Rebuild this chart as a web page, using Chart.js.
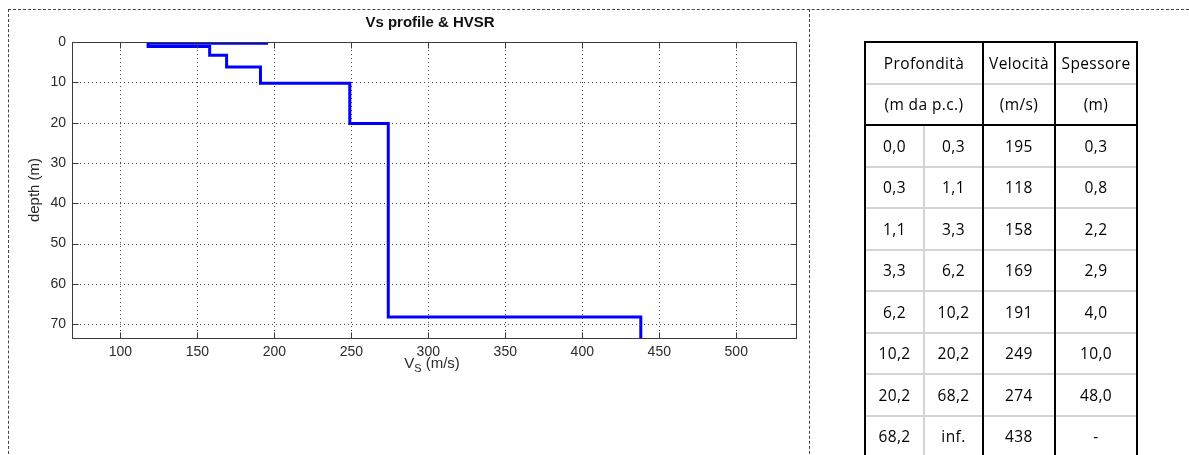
<!DOCTYPE html>
<html>
<head>
<meta charset="utf-8">
<script src="https://cdn.jsdelivr.net/npm/chart.js@4.4.1/dist/chart.umd.min.js"></script>
<style>
  html, body { margin:0; padding:0; background:#fff; }
  body { width:1189px; height:455px; overflow:hidden; position:relative; }
  #chartBox { position:absolute; left:0; top:0; width:809px; height:455px; }
  .dash { position:absolute; pointer-events:none; }
  #tbl { position:absolute; left:0; top:0; width:1189px; height:455px; pointer-events:none; }
  .cell { position:absolute; display:flex; align-items:center; justify-content:center;
          font-family:'Open Sans','Lato',sans-serif; font-size:15.5px; letter-spacing:0.4px; color:#000; }
  .ln { position:absolute; }
</style>
</head>
<body>
<div id="chartBox"><canvas id="c"></canvas></div>
<div class="dash" style="left:8px; top:9px; width:1181px; height:0; border-top:1px dashed #444;"></div>
<div class="dash" style="left:8px; top:9px; width:800px; height:470px; border-left:1px dashed #444; border-right:1px dashed #444;"></div>
<div id="tbl"></div>
<script>
// ---- data ----
const chartTitle = 'Vs profile & HVSR';
const layerTop    = [0, 0.3, 1.1, 3.3, 6.2, 10.2, 20.2, 68.2];
const layerBottom = [0.3, 1.1, 3.3, 6.2, 10.2, 20.2, 68.2, null]; // null = inf.
const velocity    = [195, 118, 158, 169, 191, 249, 274, 438];
const thickness   = [0.3, 0.8, 2.2, 2.9, 4.0, 10.0, 48.0, null];
const xTicks = [100, 150, 200, 250, 300, 350, 400, 450, 500];
const yTicks = [0, 10, 20, 30, 40, 50, 60, 70];
const xRange = [68.6, 538.8];
const yRange = [0, 73.4];
const headerRow1 = ['Profondità', 'Velocità', 'Spessore'];
const headerRow2 = ['(m da p.c.)', '(m/s)', '(m)'];

// ---- profile points (step line) ----
const profile = [];
velocity.forEach((v, i) => {
  profile.push({x: v, y: layerTop[i]});
  profile.push({x: v, y: layerBottom[i] === null ? yRange[1] : layerBottom[i]});
});

const tickFont = {family: "'Liberation Sans', Arial, sans-serif", size: 14};
const inkColor = '#2b2b2b';

const matlabAxes = {
  id: 'matlabAxes',
  beforeDatasetsDraw(chart) {
    const {ctx, chartArea: a, scales: {x, y}} = chart;
    ctx.save();
    ctx.strokeStyle = '#444';
    ctx.lineWidth = 1;
    ctx.setLineDash([1, 3]);
    xTicks.forEach(v => {
      const px = Math.round(x.getPixelForValue(v)) + 0.5;
      ctx.beginPath(); ctx.moveTo(px, a.top); ctx.lineTo(px, a.bottom); ctx.stroke();
    });
    yTicks.forEach(v => {
      if (v === yRange[0]) return;
      const py = Math.round(y.getPixelForValue(v)) + 0.5;
      ctx.beginPath(); ctx.moveTo(a.left, py); ctx.lineTo(a.right, py); ctx.stroke();
    });
    ctx.restore();
  },
  afterDatasetsDraw(chart) {
    const {ctx, chartArea: a, scales: {x, y}} = chart;
    ctx.save();
    ctx.strokeStyle = '#3a3a3a';
    ctx.lineWidth = 1;
    ctx.setLineDash([]);
    const L = Math.round(a.left) + 0.5, R = Math.round(a.right) + 0.5;
    const T = Math.round(a.top) + 0.5, B = Math.round(a.bottom) + 0.5;
    ctx.strokeRect(L, T, R - L, B - T);
    const tl = 6;
    ctx.beginPath();
    xTicks.forEach(v => {
      const px = Math.round(x.getPixelForValue(v)) + 0.5;
      ctx.moveTo(px, B); ctx.lineTo(px, B - tl);
      ctx.moveTo(px, T); ctx.lineTo(px, T + tl);
    });
    yTicks.forEach(v => {
      const py = Math.round(y.getPixelForValue(v)) + 0.5;
      ctx.moveTo(L, py); ctx.lineTo(L + tl, py);
      ctx.moveTo(R, py); ctx.lineTo(R - tl, py);
    });
    ctx.stroke();

    // title
    ctx.fillStyle = '#111';
    ctx.textAlign = 'center';
    ctx.textBaseline = 'alphabetic';
    ctx.font = "bold 15px 'Liberation Sans', Arial, sans-serif";
    ctx.fillText(chartTitle, 430, 27);

    // x axis title: V_S (m/s)
    ctx.fillStyle = inkColor;
    ctx.textAlign = 'left';
    const f1 = "15px 'Liberation Sans', Arial, sans-serif";
    const f2 = "11px 'Liberation Sans', Arial, sans-serif";
    ctx.font = f1; const wV = ctx.measureText('V').width;
    const wU = ctx.measureText(' (m/s)').width;
    ctx.font = f2; const wS = ctx.measureText('S').width;
    const total = wV + wS + wU;
    let sx = 432 - total / 2;
    const base = 368;
    ctx.font = f1; ctx.fillText('V', sx, base); sx += wV;
    ctx.font = f2; ctx.fillText('S', sx, base + 4); sx += wS;
    ctx.font = f1; ctx.fillText(' (m/s)', sx, base);

    // y axis title
    ctx.save();
    ctx.translate(35, 190);
    ctx.rotate(-Math.PI / 2);
    ctx.textAlign = 'center';
    ctx.textBaseline = 'middle';
    ctx.font = f1;
    ctx.fillText('depth (m)', 0, 0);
    ctx.restore();
    ctx.restore();
  }
};

new Chart(document.getElementById('c'), {
  type: 'scatter',
  data: {
    datasets: [{
      label: 'Vs',
      data: profile,
      showLine: true,
      borderColor: '#0000ff',
      backgroundColor: '#0000ff',
      borderWidth: 3,
      pointRadius: 0,
      pointHoverRadius: 0,
      fill: false,
      tension: 0,
      borderJoinStyle: 'miter'
    }]
  },
  options: {
    responsive: true,
    maintainAspectRatio: false,
    animation: false,
    events: [],
    layout: { padding: { left: 0, top: 42, right: 13, bottom: 0 } },
    plugins: { legend: { display: false }, tooltip: { enabled: false }, title: { display: false } },
    scales: {
      x: {
        type: 'linear', min: xRange[0], max: xRange[1],
        grid: { display: false, drawTicks: false },
        border: { display: false },
        afterBuildTicks: s => { s.ticks = xTicks.map(v => ({value: v})); },
        afterFit: s => { s.height = 455 - 338; },
        ticks: { font: tickFont, color: inkColor, padding: 6, maxRotation: 0, autoSkip: false }
      },
      y: {
        type: 'linear', reverse: true, min: yRange[0], max: yRange[1],
        grid: { display: false, drawTicks: false },
        border: { display: false },
        afterBuildTicks: s => { s.ticks = yTicks.map(v => ({value: v})); },
        afterFit: s => { s.width = 72; },
        ticks: { font: tickFont, color: inkColor, padding: 6, autoSkip: false }
      }
    }
  },
  plugins: [matlabAxes]
});

// ---- table ----
(function buildTable() {
  const host = document.getElementById('tbl');
  const colX = [865, 924, 983, 1055, 1137];
  const top = 42, rh = 41.5;
  const nRows = 2 + velocity.length;
  const fmt = v => v === null ? '' : v.toFixed(1).replace('.', ',');
  function cell(x0, x1, row, text) {
    const d = document.createElement('div');
    d.className = 'cell';
    d.style.left = x0 + 'px'; d.style.width = (x1 - x0) + 'px';
    d.style.top = (top + row * rh) + 'px'; d.style.height = rh + 'px';
    d.textContent = text;
    host.appendChild(d);
  }
  function line(x, y, w, h, color) {
    const d = document.createElement('div');
    d.className = 'ln';
    d.style.left = x + 'px'; d.style.top = y + 'px';
    d.style.width = w + 'px'; d.style.height = h + 'px';
    d.style.background = color;
    host.appendChild(d);
  }
  // headers
  cell(colX[0], colX[2], 0, headerRow1[0]);
  cell(colX[2], colX[3], 0, headerRow1[1]);
  cell(colX[3], colX[4], 0, headerRow1[2]);
  cell(colX[0], colX[2], 1, headerRow2[0]);
  cell(colX[2], colX[3], 1, headerRow2[1]);
  cell(colX[3], colX[4], 1, headerRow2[2]);
  velocity.forEach((v, i) => {
    const r = i + 2;
    cell(colX[0], colX[1], r, fmt(layerTop[i]));
    cell(colX[1], colX[2], r, layerBottom[i] === null ? 'inf.' : fmt(layerBottom[i]));
    cell(colX[2], colX[3], r, String(v));
    cell(colX[3], colX[4], r, thickness[i] === null ? '-' : fmt(thickness[i]));
  });
  const gray = '#d4d4d4', black = '#000';
  const bottom = top + nRows * rh;
  // gray lines
  for (let r = 1; r <= nRows; r++) {
    if (r === 2) continue;
    line(colX[0], top + r * rh - 1, colX[4] - colX[0], 2, gray);
  }
  line(colX[1] - 1, top + 2 * rh, 2, bottom - (top + 2 * rh), gray);
  // black lines
  line(colX[0], top + 2 * rh - 1, colX[4] - colX[0] + 1, 2, black);
  line(colX[0] - 1, top - 1, colX[4] - colX[0] + 2, 2, black);
  [0, 2, 3, 4].forEach(k => line(colX[k] - 1, top - 1, 2, bottom - top + 2, black));
})();
</script>
</body>
</html>
